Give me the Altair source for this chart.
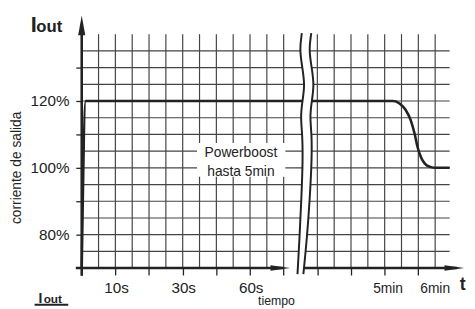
import altair as alt
import pandas as pd

# ---------------- data ----------------
# output current curve (time in grid units, current in %)
curve_t = [0.0, 0.24, 18.5, 18.9, 19.25, 19.55, 19.78, 19.95, 20.17, 20.4, 20.7, 21.05, 21.86]
curve_pct = [70, 120, 120, 119.2, 117.3, 114.2, 110.2, 106.3, 103.0, 101.2, 100.3, 100, 100]

# grid
grid_v_x = [1, 2, 3, 4, 5, 6, 7, 8, 9, 10, 11, 12, 14, 15, 16, 17, 18, 19, 20, 21]
grid_h_y = [75, 80, 85, 90, 95, 100, 105, 110, 115, 120, 125, 130, 135]
grid_top = 140
grid_right = 21.86

# axes ticks
x_tick_values = [0, 2, 4, 6, 8, 10, 12, 14, 16, 18, 20]
y_tick_values = [80, 90, 100, 110, 120, 130]
y_label_values = [80, 100, 120]

# x tick labels
x_labels = ["10s", "30s", "60s", "5min", "6min"]
x_label_pos = [2.07, 6.06, 10.07, 18.2, 21.0]
x_label_size = [15.5, 15.5, 15.5, 14, 14]
x_label_base = 62.4

# axis break (wavy double line)
break_y = [140.3, 135.3, 130.0, 124.7, 120.0, 115.3, 110.0, 102.4, 90.6, 78.8, 68.2]
break_left = [13.08, 12.94, 13.11, 13.26, 13.11, 13.00, 13.11, 13.14, 13.05, 12.94, 12.82]
break_right = [13.64, 13.49, 13.67, 13.81, 13.67, 13.55, 13.67, 13.67, 13.55, 13.38, 13.17]

# annotation box
box_x = [6.85, 12.1]
box_y = [97.3, 107.4]
box_lines = ["Powerboost", "hasta 5min"]
box_line_x = [9.46, 9.46]
box_line_y = [104.4, 98.8]

# axis lines / arrows
x_axis_y = 70
x_axis_seg1 = [-0.35, 12.0]
x_axis_seg2 = [13.0, 22.3]
x_arrow_x = [11.8, 22.14]
y_axis_x = 0
y_axis_span = [67.7, 143.0]
y_arrow_y = 142.65

xs = alt.Scale(domain=[0, 22.6], nice=False, zero=False)
ys = alt.Scale(domain=[70, 145.3], nice=False, zero=False)

INK = "#222222"
GRID = "#444444"
FONT = "Liberation Sans"

xa = alt.Axis(values=x_tick_values, labels=False, tickSize=7, tickColor=INK,
              tickWidth=1.3, domain=False, grid=False, title=None)
label_list = "[" + ",".join(str(v) for v in y_label_values) + "]"
ya = alt.Axis(values=y_tick_values,
              labelExpr=f"indexof({label_list}, datum.value) >= 0 ? datum.value + '%' : ''",
              tickSize=6, tickColor=INK, tickWidth=1.3, domain=False, grid=False,
              labelFontSize=15.5, labelFont=FONT, labelColor=INK, labelPadding=7, title=None)


def X(f):
    return alt.X(f"{f}:Q", scale=xs, axis=xa)


def Y(f):
    return alt.Y(f"{f}:Q", scale=ys, axis=ya)


# grid
gv = pd.DataFrame({"x": grid_v_x, "y0": [x_axis_y] * len(grid_v_x), "y1": [grid_top] * len(grid_v_x)})
grid_v = alt.Chart(gv).mark_rule(color=GRID, strokeWidth=1.2).encode(
    x=X("x"), y=Y("y0"), y2="y1")
gh = pd.DataFrame({"y": grid_h_y, "x0": [0] * len(grid_h_y), "x1": [grid_right] * len(grid_h_y)})
grid_h = alt.Chart(gh).mark_rule(color=GRID, strokeWidth=1.2).encode(
    y=Y("y"), x=X("x0"), x2="x1")

# annotation box
bx = pd.DataFrame({"x0": [box_x[0]], "x1": [box_x[1]], "y0": [box_y[0]], "y1": [box_y[1]]})
box = alt.Chart(bx).mark_rect(color="white").encode(x=X("x0"), x2="x1", y=Y("y0"), y2="y1")
bt = pd.DataFrame({"x": box_line_x, "y": box_line_y, "t": box_lines})
box_text = alt.Chart(bt).mark_text(font=FONT, fontSize=14, color=INK, align="center",
                                   baseline="middle").encode(x=X("x"), y=Y("y"), text="t:N")

# curve
cv = pd.DataFrame({"t": curve_t, "p": curve_pct})
curve = alt.Chart(cv).mark_line(color=INK, strokeWidth=2.6, interpolate="monotone").encode(
    x=X("t"), y=Y("p"))

# x axis segments
xseg = pd.DataFrame({"x0": [x_axis_seg1[0], x_axis_seg2[0]], "x1": [x_axis_seg1[1], x_axis_seg2[1]],
                     "y": [x_axis_y, x_axis_y]})
x_axis_line = alt.Chart(xseg).mark_rule(color=INK, strokeWidth=2.6).encode(
    x=X("x0"), x2="x1", y=Y("y"))
xar = pd.DataFrame({"x": x_arrow_x, "y": [x_axis_y] * len(x_arrow_x)})
x_arrows = alt.Chart(xar).mark_point(shape="M-1,-0.28L1,0L-1,0.28Z", filled=True, size=400,
                                     color=INK, opacity=1, strokeWidth=0).encode(x=X("x"), y=Y("y"))

# break
bk = pd.DataFrame({"y": break_y, "l": break_left, "r": break_right, "i": list(range(len(break_y)))})
break_fill = alt.Chart(bk).mark_area(orient="horizontal", color="white", interpolate="basis").encode(
    y=Y("y"), x=X("l"), x2="r")
break_l = alt.Chart(bk).mark_line(color=INK, strokeWidth=2, interpolate="basis").encode(
    x=X("l"), y=Y("y"), order="i:Q")
break_r = alt.Chart(bk).mark_line(color=INK, strokeWidth=2, interpolate="basis").encode(
    x=X("r"), y=Y("y"), order="i:Q")

# y axis
yseg = pd.DataFrame({"x": [y_axis_x], "y0": [y_axis_span[0]], "y1": [y_axis_span[1]]})
y_axis_line = alt.Chart(yseg).mark_rule(color=INK, strokeWidth=2.6).encode(
    x=X("x"), y=Y("y0"), y2="y1")
yar = pd.DataFrame({"x": [y_axis_x], "y": [y_arrow_y]})
y_arrow = alt.Chart(yar).mark_point(shape="M-0.36,1L0,-1L0.36,1Z", filled=True, size=400,
                                    color=INK, opacity=1, strokeWidth=0).encode(x=X("x"), y=Y("y"))

# x tick labels
xl = pd.DataFrame({"x": x_label_pos, "y": [x_label_base] * len(x_labels), "t": x_labels,
                   "s": x_label_size})
x_lab = alt.Chart(xl).mark_text(font=FONT, color=INK, align="center", baseline="alphabetic").encode(
    x=X("x"), y=Y("y"), text="t:N", size=alt.Size("s:Q", scale=None, legend=None))

# other texts
tiempo = alt.Chart(pd.DataFrame({"x": [11.57], "y": [59.1], "t": ["tiempo"]})).mark_text(
    font=FONT, fontSize=12.5, color=INK, align="center", baseline="alphabetic").encode(
    x=X("x"), y=Y("y"), text="t:N")
t_lab = alt.Chart(pd.DataFrame({"x": [22.63], "y": [63.5], "t": ["t"]})).mark_text(
    font=FONT, fontSize=18, fontWeight="bold", color=INK, align="center", baseline="alphabetic").encode(
    x=X("x"), y=Y("y"), text="t:N")
ylab = alt.Chart(pd.DataFrame({"x": [-3.86], "y": [100.0], "t": ["corriente de salida"]})).mark_text(
    font=FONT, fontSize=14, color=INK, align="center", baseline="middle", angle=270).encode(
    x=X("x"), y=Y("y"), text="t:N")

# I_out labels (top and bottom-left)
i_big = pd.DataFrame({"x": [-3.03, -2.57], "y": [140.8, 59.7], "t": ["I", "I"], "s": [22, 14]})
i_small = pd.DataFrame({"x": [-2.70, -2.26], "y": [140.8, 59.7], "t": ["out", "out"], "s": [17, 12]})
iout_big = alt.Chart(i_big).mark_text(font=FONT, fontWeight="bold", color=INK, align="left",
                                      baseline="alphabetic").encode(
    x=X("x"), y=Y("y"), text="t:N", size=alt.Size("s:Q", scale=None, legend=None))
iout_small = alt.Chart(i_small).mark_text(font=FONT, fontWeight="bold", color=INK, align="left",
                                          baseline="alphabetic").encode(
    x=X("x"), y=Y("y"), text="t:N", size=alt.Size("s:Q", scale=None, legend=None))
ul = pd.DataFrame({"x0": [-2.80], "x1": [-0.80], "y": [59.03]})
underline = alt.Chart(ul).mark_rule(color=INK, strokeWidth=2).encode(x=X("x0"), x2="x1", y=Y("y"))

chart = alt.layer(
    grid_v, grid_h, box, box_text, curve, x_axis_line, x_arrows,
    break_fill, break_l, break_r, y_axis_line, y_arrow,
    x_lab, tiempo, t_lab, ylab, iout_big, iout_small, underline,
).properties(
    width=387, height=256,
    autosize=alt.AutoSizeParams(type="none"),
    padding={"left": 75, "top": 6, "right": 5, "bottom": 39},
).configure_view(stroke=None)

chart.save("out.html", embed_options={"renderer": "svg", "actions": False})
